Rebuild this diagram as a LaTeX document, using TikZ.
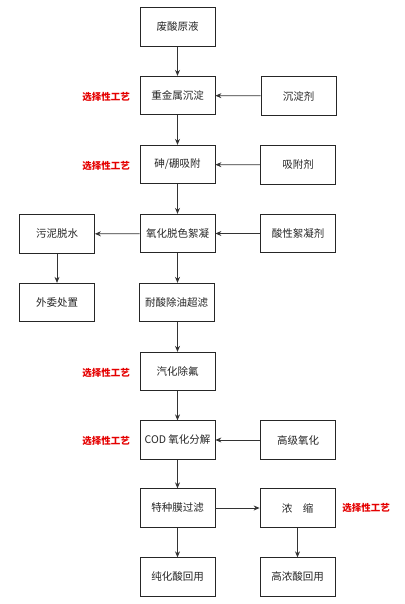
\documentclass[tikz,border=0pt]{standalone}
\usepackage{fontspec}
\newfontfamily\cjk{Noto Sans CJK SC}
\usetikzlibrary{arrows.meta}
\begin{document}
\begin{tikzpicture}[x=1pt,y=-1pt,
  box/.style={draw=black!85,line width=0.8pt,minimum width=75pt,minimum height=38.5pt,inner sep=0pt,font=\cjk\fontsize{10.5}{12}\selectfont,text=black!85},
  sel/.style={font=\cjk\bfseries\fontsize{9.5}{11}\selectfont,text=red!90!black},
  arr/.style={draw=black!80,line width=0.8pt,-{Stealth[length=6pt,width=5pt]}}]
\useasboundingbox (0,0) rectangle (404,604);
\fill[white] (0,0) rectangle (404,604);
\node[box] (a) at (177.5,27) {废酸原液};
\node[box] (b) at (177.5,95.5) {重金属沉淀};
\node[box] (bs) at (298.5,96) {沉淀剂};
\node[box] (c) at (177.5,164.5) {砷/硼吸附};
\node[box] (cs) at (298,165) {吸附剂};
\node[box] (d) at (177.5,233.5) {氧化脱色絮凝};
\node[box] (ds) at (298,233.5) {酸性絮凝剂};
\node[box] (sl) at (57,234) {污泥脱水};
\node[box] (wt) at (57,302.5) {外委处置};
\node[box] (e) at (176.5,302.5) {耐酸除油超滤};
\node[box] (f) at (177.5,371.5) {汽化除氟};
\node[box] (g) at (177.5,440) {COD 氧化分解};
\node[box] (gs) at (298,440) {高级氧化};
\node[box] (h) at (177.5,508) {特种膜过滤};
\node[box] (hs) at (297.5,508) {浓\quad 缩};
\node[box] (i) at (177.5,577) {纯化酸回用};
\node[box] (j) at (297.5,577) {高浓酸回用};
\node[sel] (l1) at (106,97) {选择性工艺};
\node[sel] (l2) at (106,166) {选择性工艺};
\node[sel] (l3) at (106,373) {选择性工艺};
\node[sel] (l4) at (106,441) {选择性工艺};
\node[sel] (l5) at (366,508) {选择性工艺};
\draw[arr] (a) -- (b);
\draw[arr] (b) -- (c);
\draw[arr] (c) -- (d);
\draw[arr] (d) -- (d|-e.north);
\draw[arr] (e.south-|f) -- (f);
\draw[arr] (f) -- (g);
\draw[arr] (g) -- (h);
\draw[arr] (h) -- (i);
\draw[arr] (bs) -- (b);
\draw[arr] (cs) -- (c);
\draw[arr] (ds) -- (d);
\draw[arr] (gs) -- (g);
\draw[arr] (d) -- (sl);
\draw[arr] (sl) -- (wt);
\draw[arr] (h) -- (hs);
\draw[arr] (hs) -- (j);
\end{tikzpicture}
\end{document}
